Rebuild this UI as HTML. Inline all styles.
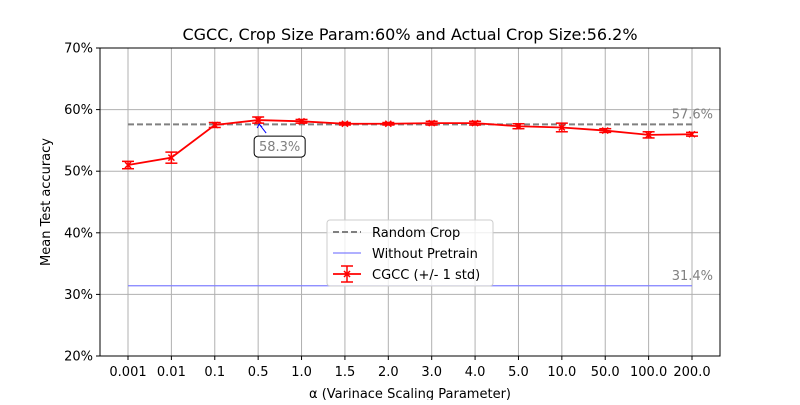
<!DOCTYPE html>
<html><head><meta charset="utf-8"><style>
body{margin:0;background:#fff;font-family:"Liberation Sans","DejaVu Sans",sans-serif}
</style></head><body>
<svg id="c" width="800" height="400" xmlns="http://www.w3.org/2000/svg" font-family="DejaVu Sans, Liberation Sans, sans-serif"></svg>
<script>
const categories=["0.001","0.01","0.1","0.5","1.0","1.5","2.0","3.0","4.0","5.0","10.0","50.0","100.0","200.0"];
const means=[51.0,52.2,57.5,58.3,58.1,57.7,57.7,57.8,57.8,57.3,57.1,56.6,55.9,56.0];
const stds=[0.6,0.9,0.4,0.5,0.3,0.2,0.2,0.3,0.3,0.4,0.7,0.3,0.5,0.3];
const randomCrop=57.6;
const withoutPretrain=31.4;
const yTicks=[20,30,40,50,60,70];
const NS="http://www.w3.org/2000/svg";
const svg=document.getElementById('c');
const L=100,R=720,T=48,B=356;
const x=i=>128+i*(692-128)/(categories.length-1);
const y=v=>B-(v-20)/50*(B-T);
function el(t,a,txt){const e=document.createElementNS(NS,t);for(const k in a)e.setAttribute(k,a[k]);if(txt!=null)e.textContent=txt;svg.appendChild(e);return e;}
let e;
e=el('text',{x:410,y:40,'text-anchor':'middle','font-size':16},'CGCC, Crop Size Param:60% and Actual Crop Size:56.2%');

yTicks.forEach(t=>{
 e=el('line',{x1:L,x2:R,y1:y(t),y2:y(t),stroke:'#b0b0b0','stroke-width':1});
 
 el('line',{x1:L-4,x2:L,y1:y(t),y2:y(t),stroke:'#000'});
 e=el('text',{x:L-7,y:y(t)+4.5,'text-anchor':'end','font-size':13},t+'%');
 
});
categories.forEach((c,i)=>{
 e=el('line',{x1:x(i),x2:x(i),y1:T,y2:B,stroke:'#b0b0b0','stroke-width':1});
 
 el('line',{x1:x(i),x2:x(i),y1:B,y2:B+4,stroke:'#000'});
 e=el('text',{x:x(i),y:B+20,'text-anchor':'middle','font-size':13},c);
 
});
e=el('rect',{x:L,y:T,width:R-L,height:B-T,fill:'none',stroke:'#000','stroke-width':1});

e=el('text',{x:410,y:398,'text-anchor':'middle','font-size':13},'α (Varinace Scaling Parameter)');

e=el('text',{x:0,y:0,'text-anchor':'middle','font-size':13,transform:`translate(50,${(T+B)/2}) rotate(-90)`},'Mean Test accuracy');

const x0=x(0),x1=x(categories.length-1);
e=el('line',{x1:x0,x2:x1,y1:y(randomCrop),y2:y(randomCrop),stroke:'#808080','stroke-width':2,'stroke-dasharray':'6,3'});

e=el('line',{x1:x0,x2:x1,y1:y(withoutPretrain),y2:y(withoutPretrain),stroke:'#8080ff','stroke-width':1.3});

e=el('text',{x:713,y:y(randomCrop)-6,'text-anchor':'end','font-size':13,fill:'#808080'},randomCrop.toFixed(1)+'%');

e=el('text',{x:713,y:y(withoutPretrain)-6,'text-anchor':'end','font-size':13,fill:'#808080'},withoutPretrain.toFixed(1)+'%');

e=el('polyline',{points:means.map((m,i)=>x(i)+','+y(m)).join(' '),fill:'none',stroke:'red','stroke-width':1.8});

means.forEach((m,i)=>{
 const g=document.createElementNS(NS,'g');svg.appendChild(g);
 
 const X=x(i),Y1=y(m-stds[i]),Y2=y(m+stds[i]),Y=y(m);
 g.innerHTML=`<line x1="${X}" x2="${X}" y1="${Y1}" y2="${Y2}" stroke="red" stroke-width="1.5"/><line x1="${X-6}" x2="${X+6}" y1="${Y1}" y2="${Y1}" stroke="red" stroke-width="1.5"/><line x1="${X-6}" x2="${X+6}" y1="${Y2}" y2="${Y2}" stroke="red" stroke-width="1.5"/><line x1="${X-3}" x2="${X+3}" y1="${Y-3}" y2="${Y+3}" stroke="red" stroke-width="1.5"/><line x1="${X-3}" x2="${X+3}" y1="${Y+3}" y2="${Y-3}" stroke="red" stroke-width="1.5"/>`;
});
const mi=means.indexOf(Math.max(...means));
const ax=x(mi),ay=y(means[mi]);
e=el('line',{x1:ax+8,x2:ax+1,y1:ay+13,y2:ay+4,stroke:'blue','stroke-width':1});

el('polyline',{points:`${ax-1},${ay+8} ${ax+1},${ay+4} ${ax+4},${ay+7}`,fill:'none',stroke:'blue','stroke-width':1});
e=el('rect',{x:ax-4,y:ay+16,width:51,height:21,rx:4,fill:'#fff',stroke:'#000','stroke-width':1});

e=el('text',{x:ax+21.5,y:ay+31,'text-anchor':'middle','font-size':13,fill:'#808080'},means[mi].toFixed(1)+'%');

e=el('rect',{x:327,y:220,width:166,height:66,rx:3,fill:'#fff','fill-opacity':0.8,stroke:'#ccc'});

el('line',{x1:333,x2:361,y1:232,y2:232,stroke:'#808080','stroke-width':2,'stroke-dasharray':'6,3'});
e=el('text',{x:372,y:237,'font-size':13},'Random Crop');
el('line',{x1:333,x2:361,y1:253,y2:253,stroke:'#8080ff','stroke-width':1.3});
e=el('text',{x:372,y:258,'font-size':13},'Without Pretrain');
el('line',{x1:333,x2:361,y1:274,y2:274,stroke:'red','stroke-width':1.8});
el('line',{x1:347,x2:347,y1:266,y2:282,stroke:'red','stroke-width':1.5});
el('line',{x1:341,x2:353,y1:266,y2:266,stroke:'red','stroke-width':1.5});
el('line',{x1:341,x2:353,y1:282,y2:282,stroke:'red','stroke-width':1.5});
el('line',{x1:344,x2:350,y1:271,y2:277,stroke:'red','stroke-width':1.5});
el('line',{x1:344,x2:350,y1:277,y2:271,stroke:'red','stroke-width':1.5});
e=el('text',{x:372,y:279,'font-size':13},'CGCC (+/- 1 std)');
</script>
</body></html>
